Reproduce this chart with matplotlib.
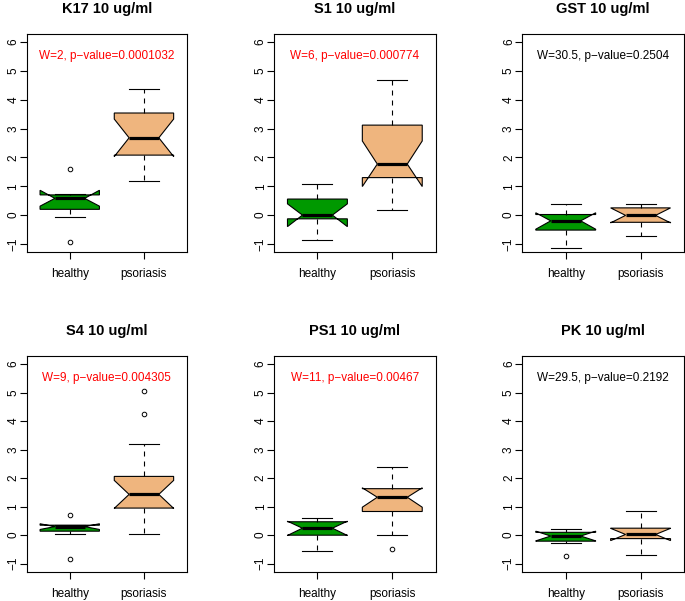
import matplotlib
matplotlib.use('Agg')
import matplotlib.pyplot as plt

plt.rcParams['font.family'] = ['Liberation Sans', 'DejaVu Sans']

# ---- data ----
titles = ["K17 10 ug/ml", "S1 10 ug/ml", "GST 10 ug/ml",
          "S4 10 ug/ml", "PS1 10 ug/ml", "PK 10 ug/ml"]
tests = ["W=2, p\u2212value=0.0001032", "W=6, p\u2212value=0.000774",
         "W=30.5, p\u2212value=0.2504", "W=9, p\u2212value=0.004305",
         "W=11, p\u2212value=0.00467", "W=29.5, p\u2212value=0.2192"]
significant = [True, True, False, True, True, False]
groups = ["healthy", "psoriasis"]
yticks = [-1, 0, 1, 2, 3, 4, 5, 6]

# order: whislo, q1, med, q3, whishi, cilo, cihi
stat_keys = ['whislo', 'q1', 'med', 'q3', 'whishi', 'cilo', 'cihi']
k17_healthy = [-0.08, 0.20, 0.58, 0.70, 0.72, 0.31, 0.86]
k17_healthy_out = [1.59, -0.93]
k17_psoriasis = [1.19, 2.08, 2.68, 3.54, 4.37, 2.03, 3.33]
k17_psoriasis_out = []
s1_healthy = [-0.85, -0.13, 0.00, 0.556, 1.08, -0.40, 0.39]
s1_healthy_out = []
s1_psoriasis = [0.16, 1.30, 1.77, 3.12, 4.68, 0.99, 2.57]
s1_psoriasis_out = []
gst_healthy = [-1.15, -0.52, -0.20, 0.02, 0.40, -0.49, 0.08]
gst_healthy_out = []
gst_psoriasis = [-0.74, -0.25, -0.01, 0.25, 0.40, -0.27, 0.25]
gst_psoriasis_out = []
s4_healthy = [0.04, 0.14, 0.30, 0.35, 0.35, 0.20, 0.40]
s4_healthy_out = [0.72, -0.83]
s4_psoriasis = [0.03, 0.95, 1.43, 2.06, 3.20, 0.94, 1.92]
s4_psoriasis_out = [5.04, 4.26]
ps1_healthy = [-0.56, 0.00, 0.245, 0.47, 0.60, -0.01, 0.49]
ps1_healthy_out = []
ps1_psoriasis = [0.00, 0.83, 1.33, 1.63, 2.38, 0.98, 1.66]
ps1_psoriasis_out = [-0.49]
pk_healthy = [-0.28, -0.21, -0.03, 0.10, 0.20, -0.20, 0.14]
pk_healthy_out = [-0.745]
pk_psoriasis = [-0.69, -0.12, 0.025, 0.245, 0.84, -0.19, 0.24]
pk_psoriasis_out = []

panel_data = [
    [(k17_healthy, k17_healthy_out), (k17_psoriasis, k17_psoriasis_out)],
    [(s1_healthy, s1_healthy_out), (s1_psoriasis, s1_psoriasis_out)],
    [(gst_healthy, gst_healthy_out), (gst_psoriasis, gst_psoriasis_out)],
    [(s4_healthy, s4_healthy_out), (s4_psoriasis, s4_psoriasis_out)],
    [(ps1_healthy, ps1_healthy_out), (ps1_psoriasis, ps1_psoriasis_out)],
    [(pk_healthy, pk_healthy_out), (pk_psoriasis, pk_psoriasis_out)],
]

box_colors = ['#009900', '#EFB57E']

W, H = 685, 601
fig = plt.figure(figsize=(W / 100, H / 100), dpi=100)

col_px = [(26.7, 187.0), (274.0, 435.7), (522.3, 684.0)]
row_px = [(34.0, 252.0), (356.0, 571.7)]

for i in range(6):
    r, c = divmod(i, 3)
    x0, x1 = col_px[c]
    y0, y1 = row_px[r]
    ax = fig.add_axes([x0 / W, 1 - y1 / H, (x1 - x0) / W, (y1 - y0) / H])
    stats = []
    for g, (vals, outs) in zip(groups, panel_data[i]):
        d = dict(zip(stat_keys, vals))
        d['fliers'] = outs
        d['label'] = g
        stats.append(d)
    bp = ax.bxp(stats, positions=[1, 2], widths=0.8, shownotches=True,
                patch_artist=True, capwidths=0.4,
                boxprops=dict(linewidth=0.8, edgecolor='black'),
                whiskerprops=dict(linewidth=0.8, linestyle=(0, (4.5, 4.5)), color='black'),
                capprops=dict(linewidth=0.8, color='black'),
                medianprops=dict(color='black', linewidth=2.3, solid_capstyle='butt'),
                flierprops=dict(marker='o', markersize=3.3, markerfacecolor='none',
                                markeredgecolor='black', markeredgewidth=0.7))
    for patch, col in zip(bp['boxes'], box_colors):
        patch.set_facecolor(col)
    ax.set_xlim(0.42, 2.58)
    ax.set_ylim(-1.28, 6.28)
    ax.set_yticks(yticks)
    ax.set_xticks([1, 2])
    ax.set_xticklabels(groups)
    ax.tick_params(axis='both', direction='out', length=4.8, width=0.8,
                   labelsize=8.5, colors='black')
    ax.tick_params(axis='x', pad=7)
    ax.tick_params(axis='y', labelrotation=90, pad=0.5)
    for lab in ax.get_yticklabels():
        lab.set_va('center')
    for s in ax.spines.values():
        s.set_linewidth(0.8)
    ax.set_title(titles[i], fontsize=10.5, fontweight='bold', pad=15)
    ax.text(1.5, 5.5, tests[i], ha='center', va='center', fontsize=8.5,
            color='red' if significant[i] else 'black')

fig.savefig('out.png', dpi=100)
